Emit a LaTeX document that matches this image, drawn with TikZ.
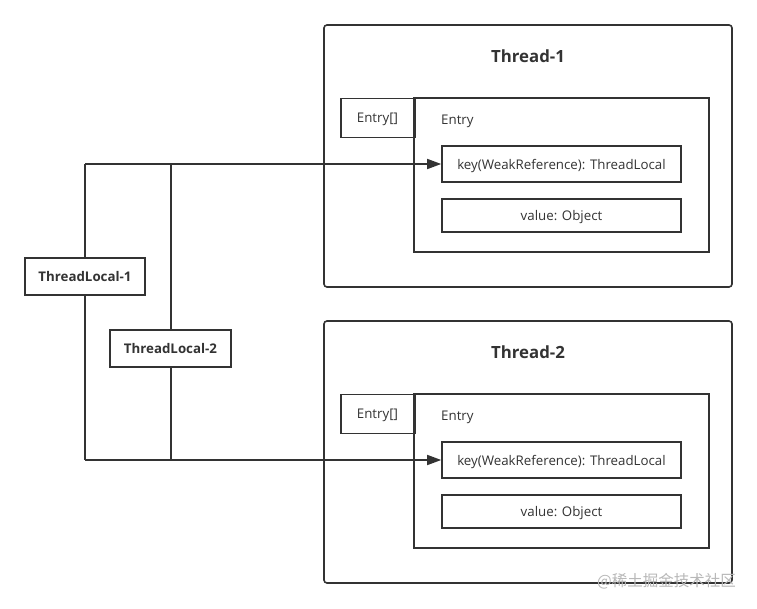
\documentclass[tikz,border=0pt]{standalone}
\usepackage{fontspec}
\setmainfont{Open Sans}
\newfontfamily\cjk{Noto Sans CJK SC}
\usetikzlibrary{arrows.meta}
\definecolor{ink}{HTML}{333333}
\definecolor{wm}{HTML}{B8B8B8}
\tikzset{
  box/.style={draw=ink, line width=1.6pt, fill=white, inner sep=0pt, text=ink, text depth=0pt},
  thread/.style={box, rounded corners=3pt},
  lbl/.style={text=ink, inner sep=0pt, text depth=0pt, font=\fontsize{13.3}{15}\selectfont},
  title/.style={text=ink, inner sep=0pt, text depth=0pt, font=\fontsize{16.8}{19}\selectfont\bfseries},
  tlbl/.style={font=\fontsize{13.3}{15}\selectfont\bfseries},
  conn/.style={draw=ink, line width=1.6pt},
  arr/.style={conn, -{Triangle[length=14pt,width=10pt]}},
}
\begin{document}
\begin{tikzpicture}[x=1pt,y=-1pt]
\useasboundingbox (0,0) rectangle (757,609);
\fill[white] (0,0) rectangle (757,609);
% Thread-1
\node[thread, minimum width=408pt, minimum height=262pt] (t1) at (528,156) {};
\node[title] (t1t) at (528,56) {Thread-1};
\node[box, minimum width=295pt, minimum height=154pt] (e1) at (561.5,175) {};
\node[box, minimum width=73pt, minimum height=39pt, lbl] (a1) at (377.5,118) {Entry[]};
\draw[ink, line width=1.6pt] (a1.north east) -- (a1.south east);
\node[lbl, anchor=west] (e1t) at (441,120) {Entry};
\node[box, lbl, minimum width=239pt, minimum height=36pt] (k1) at (561.5,164) {key(WeakReference): ThreadLocal};
\node[box, lbl, minimum width=239pt, minimum height=33pt] (v1) at (561.5,215.5) {value: Object};
% Thread-2
\node[thread, minimum width=408pt, minimum height=262pt] (t2) at (528,452) {};
\node[title] (t2t) at (528,352) {Thread-2};
\node[box, minimum width=295pt, minimum height=154pt] (e2) at (561.5,471) {};
\node[box, minimum width=73pt, minimum height=39pt, lbl] (a2) at (377.5,414) {Entry[]};
\draw[ink, line width=1.6pt] (a2.north east) -- (a2.south east);
\node[lbl, anchor=west] (e2t) at (441,416) {Entry};
\node[box, lbl, minimum width=239pt, minimum height=36pt] (k2) at (561.5,460) {key(WeakReference): ThreadLocal};
\node[box, lbl, minimum width=239pt, minimum height=33pt] (v2) at (561.5,511.5) {value: Object};
% connectors
\coordinate (c1t) at (85,164);
\coordinate (c1b) at (85,460);
\coordinate (c2t) at (171,164);
\coordinate (c2b) at (171,460);
\draw[conn] (c1t) -- (c2t);
\draw[conn] (c1b) -- (c2b);
\draw[conn] (85,276) -- (c1t);
\draw[conn] (85,276) -- (c1b);
\draw[arr] (c2t) -- (k1.west);
\draw[arr] (c2b) -- (k2.west);
\draw[conn] (c2t) -- (c2b);
% ThreadLocal nodes
\node[box, tlbl, minimum width=120pt, minimum height=37pt] (tl1) at (85,276.5) {ThreadLocal-1};
\node[box, tlbl, minimum width=121pt, minimum height=37pt] (tl2) at (170.5,348.5) {ThreadLocal-2};
% watermark
\node[text=wm, inner sep=0pt, font=\cjk\fontsize{15.5}{17}\selectfont, anchor=west] (wmk) at (597,581) {@稀土掘金技术社区};
\end{tikzpicture}
\end{document}
